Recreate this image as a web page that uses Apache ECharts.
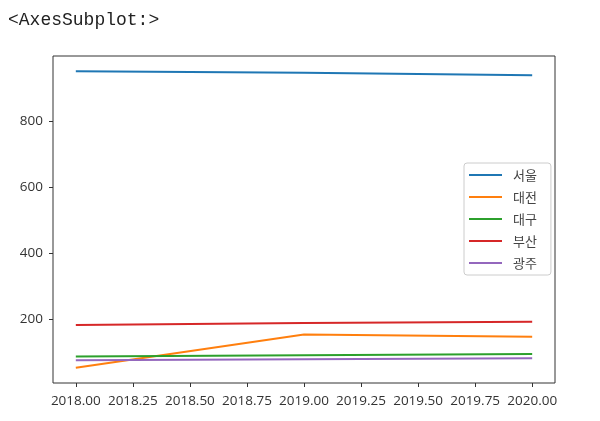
<!DOCTYPE html>
<html><head><meta charset="utf-8">
<script src="https://cdn.jsdelivr.net/npm/echarts@6/dist/echarts.min.js"></script>
<style>html,body{margin:0;padding:0;background:#fff}#c{width:600px;height:421px}</style>
</head><body><div id="c"></div>
<script>
const years = [2018, 2019, 2020];
const seriesNames = ['서울', '대전', '대구', '부산', '광주'];
const seoul = [951, 946, 939];
const daejeon = [52, 153, 146];
const daegu = [86, 90, 94];
const busan = [182, 188, 192];
const gwangju = [75, 78, 81];
const xTicks = [2018, 2018.25, 2018.5, 2018.75, 2019, 2019.25, 2019.5, 2019.75, 2020];
const yTicks = [200, 400, 600, 800];
const colors = ['#1f77b4', '#ff7f0e', '#2ca02c', '#d62728', '#9467bd'];
const values = [seoul, daejeon, daegu, busan, gwangju];

const chart = echarts.init(document.getElementById('c'));
chart.setOption({
  animation: false,
  title: {
    text: '<AxesSubplot:>', left: 3, top: 6,
    textStyle: { fontFamily: 'Liberation Mono', fontSize: 18, fontWeight: 'normal', color: '#222' }
  },
  grid: { left: 53, right: 45, top: 56, bottom: 38, show: true, borderColor: '#333', borderWidth: 1, backgroundColor: 'transparent' },
  legend: {
    orient: 'vertical', left: 464, top: 163,
    data: seriesNames,
    icon: 'rect', itemWidth: 33, itemHeight: 2, itemGap: 8,
    padding: [5, 14, 5, 5],
    borderColor: '#ccc', borderWidth: 1, borderRadius: 3,
    textStyle: { fontFamily: 'Noto Sans CJK KR', fontSize: 13, color: '#444', lineHeight: 14, padding: [0, 0, 0, 6] }
  },
  xAxis: {
    type: 'value', min: 2017.9, max: 2020.1,
    axisLine: { show: false },
    splitLine: { show: false },
    axisTick: { show: true, length: 4, lineStyle: { color: '#333' }, customValues: xTicks },
    axisLabel: { customValues: xTicks, formatter: v => v.toFixed(2), fontFamily: 'Open Sans', fontSize: 13.5, color: '#333', margin: 11 }
  },
  yAxis: {
    type: 'value', min: 6, max: 997,
    axisLine: { show: false },
    splitLine: { show: false },
    axisTick: { show: true, length: 4, lineStyle: { color: '#333' }, customValues: yTicks },
    axisLabel: { customValues: yTicks, fontFamily: 'Open Sans', fontSize: 13.5, color: '#333', margin: 10 }
  },
  series: seriesNames.map((n, i) => ({
    name: n, type: 'line', symbol: 'none',
    data: years.map((y, j) => [y, values[i][j]]),
    lineStyle: { color: colors[i], width: 2 },
    itemStyle: { color: colors[i] }
  }))
});
</script></body></html>
